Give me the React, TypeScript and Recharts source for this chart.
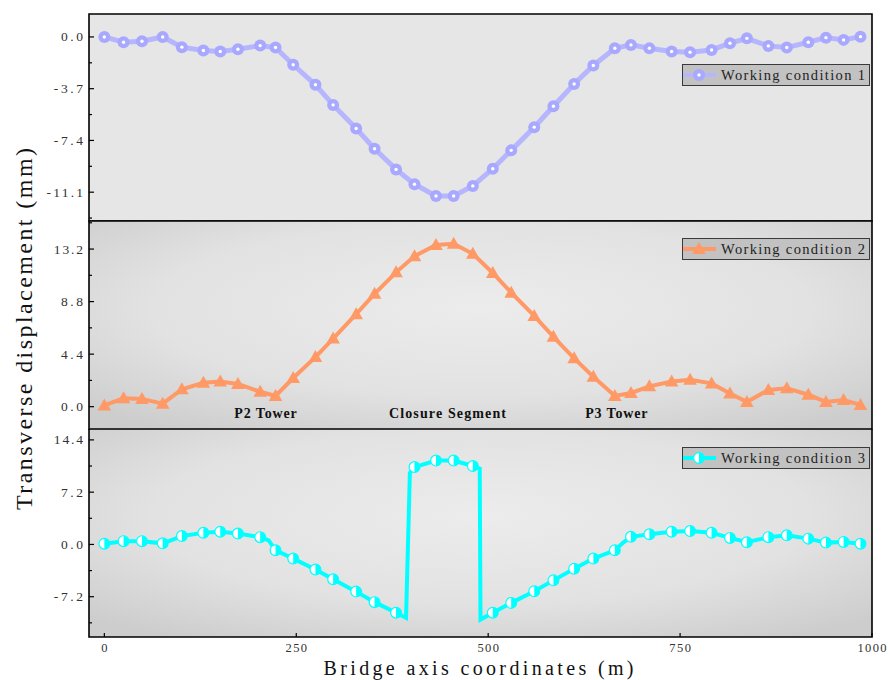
import React from 'react';
import { LineChart, Line, XAxis, YAxis, ReferenceArea, ReferenceDot, Legend } from 'recharts';

// Bridge axis stations (m)
const stations = [0, 25, 49, 76, 101, 129, 151, 174, 203, 223, 246, 275, 298, 328, 352, 380, 404, 432, 455, 480, 506, 530, 560, 585, 612, 637, 665, 686, 710, 739, 763, 791, 815, 837, 865, 889, 917, 940, 963, 985];

// Working condition 1 (mm)
const wc1 = [0, -0.38, -0.31, 0, -0.73, -0.97, -1.04, -0.88, -0.62, -0.76, -1.99, -3.42, -4.86, -6.55, -7.99, -9.47, -10.53, -11.37, -11.37, -10.65, -9.42, -8.11, -6.45, -4.96, -3.37, -2.04, -0.81, -0.57, -0.81, -1.04, -1.09, -0.93, -0.45, -0.1, -0.64, -0.76, -0.38, -0.05, -0.21, 0.02];

// Working condition 2 (mm)
const wc2 = [0.1, 0.7, 0.65, 0.25, 1.45, 2.0, 2.1, 1.9, 1.25, 0.9, 2.4, 4.15, 5.7, 7.75, 9.45, 11.25, 12.6, 13.55, 13.65, 12.8, 11.2, 9.55, 7.6, 5.85, 4.05, 2.5, 0.9, 1.15, 1.7, 2.1, 2.25, 1.95, 1.1, 0.4, 1.4, 1.55, 1.0, 0.4, 0.55, 0.15];

// Working condition 3 (mm) at marked stations
const wc3 = [0.1, 0.45, 0.45, 0.15, 1.15, 1.6, 1.75, 1.5, 1.0, -0.8, -1.95, -3.45, -4.8, -6.5, -7.95, -9.4, 10.65, 11.55, 11.55, 10.8, -9.4, -8.05, -6.45, -4.95, -3.35, -1.95, -0.8, 1.05, 1.4, 1.75, 1.85, 1.6, 0.9, 0.3, 1.0, 1.25, 0.8, 0.25, 0.35, 0.1];
// Working condition 3 intermediate (unmarked) points
const wc3ExtraX = [214, 393, 398, 489, 490, 676];
const wc3ExtraY = [0.55, -10.1, 9.85, 10.45, -10.35, 0.25];

const xTicks = [0, 250, 500, 750, 1000];
const y1Major = [0, -3.7, -7.4, -11.1];
const y1Minor = [-1.85, -5.55, -9.25, -12.95];
const y2Major = [0, 4.4, 8.8, 13.2];
const y2Minor = [2.2, 6.6, 11, 15.4];
const y3Major = [-7.2, 0, 7.2, 14.4];
const y3Minor = [-10.8, -3.6, 3.6, 10.8];

const annotations = ['P2 Tower', 'Closure Segment', 'P3 Tower'];
const annotationX = [210, 447, 667];
const annotationY = [-0.6, -0.6, -0.6];

const legendNames = ['Working condition 1', 'Working condition 2', 'Working condition 3'];

const data1 = stations.map((x, i) => ({ x, y: wc1[i] }));
const data2 = stations.map((x, i) => ({ x, y: wc2[i] }));
const data3 = [
  ...stations.map((x, i) => ({ x, y: wc3[i], m: true })),
  ...wc3ExtraX.map((x, i) => ({ x, y: wc3ExtraY[i], m: false })),
].sort((a, b) => a.x - b.x);

const FONT = '"Liberation Serif", "DejaVu Serif", serif';
const C1 = '#b6b6ff';
const C1M = '#a8a8ff';
const C2 = '#ff9966';
const C3 = '#00ffff';

const xDomain: [number, number] = [-20, 1000];
const y1Domain: [number, number] = [-13.16, 1.64];
const y2Domain: [number, number] = [-1.87, 15.55];
const y3Domain: [number, number] = [-12.75, 15.9];

type Kind = 'c1' | 'c2' | 'c3';

const Marker = ({ kind, cx, cy }: { kind: Kind; cx: number; cy: number }) => {
  if (kind === 'c1') {
    return (
      <g>
        <circle cx={cx} cy={cy} r={6} fill={C1M} />
        <circle cx={cx} cy={cy} r={1.7} fill="#ffffff" />
      </g>
    );
  }
  if (kind === 'c2') {
    return (
      <polygon
        points={`${cx},${cy - 7} ${cx - 6.8},${cy + 5} ${cx + 6.8},${cy + 5}`}
        fill={C2}
      />
    );
  }
  return (
    <g>
      <circle cx={cx} cy={cy} r={5.4} fill="#ffffff" stroke={C3} strokeWidth={1.2} />
      <path d={`M ${cx} ${cy - 5.4} A 5.4 5.4 0 0 1 ${cx} ${cy + 5.4} Z`} fill={C3} />
    </g>
  );
};

const makeDot = (kind: Kind) => (props: any) => {
  const { cx, cy, index, payload } = props;
  if (cx == null || cy == null || (payload && payload.m === false)) {
    return <g key={`d-${index}`} />;
  }
  return (
    <g key={`d-${index}`}>
      <Marker kind={kind} cx={cx} cy={cy} />
    </g>
  );
};

const makeYTick = (majors: number[]) => (props: any) => {
  const { x, y, payload } = props;
  const v = payload.value as number;
  const isMajor = majors.some((m) => Math.abs(m - v) < 1e-6);
  const label = v.toFixed(1);
  return (
    <g>
      <line x1={x} x2={x + (isMajor ? 5 : 3)} y1={y} y2={y} stroke="#000" strokeWidth={1.2} />
      {isMajor && (
        <text x={x - 6} y={y} dy={4.5} textAnchor="end" fontFamily={FONT} fontSize={13.5} fill="#333" textLength={label.length * 7.3} lengthAdjust="spacing">
          {label}
        </text>
      )}
    </g>
  );
};

const XTickInside = (props: any) => {
  const { x, y } = props;
  return <line x1={x} x2={x} y1={y} y2={y - 4} stroke="#000" strokeWidth={1.2} />;
};

const XTickBottom = (props: any) => {
  const { x, y, payload } = props;
  const label = String(payload.value);
  return (
    <g>
      <line x1={x} x2={x} y1={y} y2={y - 4} stroke="#000" strokeWidth={1.2} />
      <text x={x} y={y + 15} textAnchor="middle" fontFamily={FONT} fontSize={12.5} fill="#333" textLength={label.length * 7.2} lengthAdjust="spacing">
        {label}
      </text>
    </g>
  );
};

const LegendBox = ({ label, color, kind }: { label: string; color: string; kind: Kind }) => (
  <svg width={189} height={22} style={{ display: 'block' }}>
    <rect x={0.5} y={0.5} width={187} height={21} fill="#c2c2c2" stroke="#3a3a3a" strokeWidth={1} />
    <line x1={1} x2={34} y1={11} y2={11} stroke={color} strokeWidth={4} />
    <Marker kind={kind} cx={17} cy={11} />
    <text x={39} y={15.5} fontFamily={FONT} fontSize={14.5} fill="#222" textLength={144} lengthAdjust="spacing">
      {label}
    </text>
  </svg>
);

const YTitle = (props: any) => {
  const vb = props.viewBox || { x: 29, y: 81, width: 60, height: 208 };
  const cx = vb.x - 5;
  const cy = vb.y + vb.height / 2 + 4;
  return (
    <text
      x={cx}
      y={cy}
      transform={`rotate(-90, ${cx}, ${cy})`}
      textAnchor="middle"
      dominantBaseline="central"
      fontFamily={FONT}
      fontSize={24}
      fill="#111"
      textLength={362}
      lengthAdjust="spacing"
    >
      Transverse displacement (mm)
    </text>
  );
};

const XTitle = (props: any) => {
  const vb = props.viewBox || { x: 89, y: 208, width: 783, height: 43 };
  return (
    <text
      x={vb.x + vb.width / 2 - 2}
      y={vb.y + 38}
      textAnchor="middle"
      fontFamily={FONT}
      fontSize={20}
      fill="#111"
      textLength={310}
      lengthAdjust="spacing"
    >
      Bridge axis coordinates (m)
    </text>
  );
};

const AnnoLabel = (text: string) => (props: any) => {
  const vb = props.viewBox || { x: 0, y: 0, width: 0, height: 0 };
  return (
    <text
      x={vb.x + vb.width / 2}
      y={vb.y + vb.height / 2}
      dy={4.5}
      textAnchor="middle"
      fontFamily={FONT}
      fontSize={14}
      fontWeight="bold"
      fill="#111"
      textLength={text.length * 7.8}
      lengthAdjust="spacing"
    >
      {text}
    </text>
  );
};

const Defs = () => (
  <defs>
    <radialGradient id="bgGrad" cx="50%" cy="42%" r="70%">
      <stop offset="0%" stopColor="#ececec" />
      <stop offset="60%" stopColor="#e2e2e2" />
      <stop offset="100%" stopColor="#cdcdcd" />
    </radialGradient>
  </defs>
);

const legendProps = {
  layout: 'vertical' as const,
  verticalAlign: 'middle' as const,
  align: 'center' as const,
};

export default function App() {
  return (
    <div style={{ position: 'absolute', left: 0, top: 0, width: 888, height: 680, background: '#ffffff' }}>
      {/* Panel 1 */}
      <div style={{ position: 'absolute', left: 0, top: 0 }}>
        <LineChart width={888} height={222} data={data1} margin={{ top: 14, right: 16, bottom: 1, left: 29 }}>
          <ReferenceArea x1={xDomain[0]} x2={xDomain[1]} y1={y1Domain[0]} y2={y1Domain[1]} fill="#e6e6e6" fillOpacity={1} stroke="#000" strokeWidth={1.6} />
          <XAxis dataKey="x" type="number" domain={xDomain} ticks={xTicks} interval={0} height={0} tickSize={0} tickMargin={0} tickLine={false} axisLine={false} tick={XTickInside} allowDataOverflow />
          <YAxis type="number" domain={y1Domain} ticks={[...y1Major, ...y1Minor]} interval={0} width={60} tickSize={0} tickMargin={0} tickLine={false} axisLine={false} tick={makeYTick(y1Major)} allowDataOverflow />
          <Line type="linear" dataKey="y" stroke={C1} strokeWidth={5} dot={makeDot('c1')} activeDot={false} isAnimationActive={false} />
          <Legend {...legendProps} wrapperStyle={{ left: 682, top: 64, width: 189, height: 22 }} content={() => <LegendBox label={legendNames[0]} color={C1} kind="c1" />} />
        </LineChart>
      </div>
      {/* Panel 2 */}
      <div style={{ position: 'absolute', left: 0, top: 140 }}>
        <LineChart width={888} height={380} data={data2} margin={{ top: 81, right: 16, bottom: 91, left: 29 }}>
          <Defs />
          <ReferenceArea x1={xDomain[0]} x2={xDomain[1]} y1={y2Domain[0]} y2={y2Domain[1]} fill="url(#bgGrad)" fillOpacity={1} stroke="#000" strokeWidth={1.6} />
          <XAxis dataKey="x" type="number" domain={xDomain} ticks={xTicks} interval={0} height={0} tickSize={0} tickMargin={0} tickLine={false} axisLine={false} tick={XTickInside} allowDataOverflow />
          <YAxis type="number" domain={y2Domain} ticks={[...y2Major, ...y2Minor]} interval={0} width={60} tickSize={0} tickMargin={0} tickLine={false} axisLine={false} tick={makeYTick(y2Major)} allowDataOverflow label={YTitle} />
          {annotations.map((t, i) => (
            <ReferenceDot key={t} x={annotationX[i]} y={annotationY[i]} r={0} fill="none" stroke="none" label={AnnoLabel(t)} />
          ))}
          <Line type="linear" dataKey="y" stroke={C2} strokeWidth={4} dot={makeDot('c2')} activeDot={false} isAnimationActive={false} />
          <Legend {...legendProps} wrapperStyle={{ left: 682, top: 98, width: 189, height: 22 }} content={() => <LegendBox label={legendNames[1]} color={C2} kind="c2" />} />
        </LineChart>
      </div>
      {/* Panel 3 */}
      <div style={{ position: 'absolute', left: 0, top: 429 }}>
        <LineChart width={888} height={251} data={data3} margin={{ top: 0, right: 16, bottom: 0, left: 29 }}>
          <Defs />
          <ReferenceArea x1={xDomain[0]} x2={xDomain[1]} y1={y3Domain[0]} y2={y3Domain[1]} fill="url(#bgGrad)" fillOpacity={1} stroke="#000" strokeWidth={1.6} />
          <XAxis dataKey="x" type="number" domain={xDomain} ticks={xTicks} interval={0} height={43} tickSize={0} tickMargin={0} tickLine={false} axisLine={false} tick={XTickBottom} allowDataOverflow label={XTitle} />
          <YAxis type="number" domain={y3Domain} ticks={[...y3Major, ...y3Minor]} interval={0} width={60} tickSize={0} tickMargin={0} tickLine={false} axisLine={false} tick={makeYTick(y3Major)} allowDataOverflow />
          <Line type="linear" dataKey="y" stroke={C3} strokeWidth={4} dot={makeDot('c3')} activeDot={false} isAnimationActive={false} />
          <Legend {...legendProps} wrapperStyle={{ left: 682, top: 18, width: 189, height: 22 }} content={() => <LegendBox label={legendNames[2]} color={C3} kind="c3" />} />
        </LineChart>
      </div>
    </div>
  );
}
